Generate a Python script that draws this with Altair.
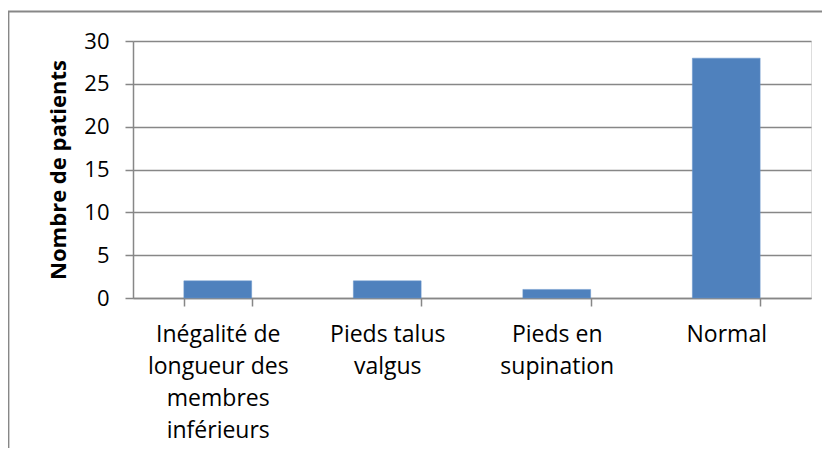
import altair as alt
import pandas as pd

categories = [
    "Inégalité de|longueur des|membres|inférieurs",
    "Pieds talus|valgus",
    "Pieds en|supination",
    "Normal",
]
patients = [2, 2, 1, 28]
y_ticks = [0, 5, 10, 15, 20, 25, 30]

df = pd.DataFrame({"cat": categories, "n": patients})

W, H = 678, 257
FONT = "Open Sans"
GRAY = "#878787"

bars = alt.Chart(df).mark_bar(color="#4F81BD", stroke="#6A96CC", strokeWidth=0.5).encode(
    x=alt.X(
        "cat:N",
        sort=categories,
        scale=alt.Scale(paddingInner=0.6, paddingOuter=0.3),
        axis=alt.Axis(
            title=None,
            labelAngle=0,
            labelExpr="split(datum.label, '|')",
            labelFont=FONT,
            labelFontSize=23,
            labelLineHeight=32,
            labelColor="#000000",
            labelPadding=17,
            labelBaseline="top",
            tickBand="extent",
            tickSize=8,
            tickColor=GRAY,
            tickWidth=1.5,
            domainColor=GRAY,
            domainWidth=1.5,
            grid=False,
        ),
    ),
    y=alt.Y(
        "n:Q",
        scale=alt.Scale(domain=[0, 30], nice=False),
        axis=alt.Axis(
            title="Nombre de patients",
            titleFont=FONT,
            titleFontSize=22,
            titleFontWeight="bold",
            titleColor="#000000",
            titlePadding=13,
            values=y_ticks,
            labelFont=FONT,
            labelFontSize=22,
            labelColor="#000000",
            labelPadding=16,
            tickSize=8,
            tickColor=GRAY,
            tickWidth=1.5,
            domainColor=GRAY,
            domainWidth=1.5,
            grid=True,
            gridColor=GRAY,
            gridWidth=1.5,
        ),
    ),
)

border = alt.Chart(pd.DataFrame({"a": [0]})).mark_rect(
    fill=None, fillOpacity=0, stroke=GRAY, strokeWidth=1.8
).encode(
    x=alt.value(-124.5),
    x2=alt.value(W + 200),
    y=alt.value(-29.5),
    y2=alt.value(H + 300),
)

chart = (
    alt.layer(border, bars)
    .properties(
        width=W,
        height=H,
        autosize=alt.AutoSizeParams(type="none"),
        padding={"left": 125, "top": 33, "right": 11, "bottom": 150},
    )
    .configure_view(stroke=None)
    .configure(background="white")
)

chart.save("out.html", embed_options={"renderer": "svg", "actions": False})
